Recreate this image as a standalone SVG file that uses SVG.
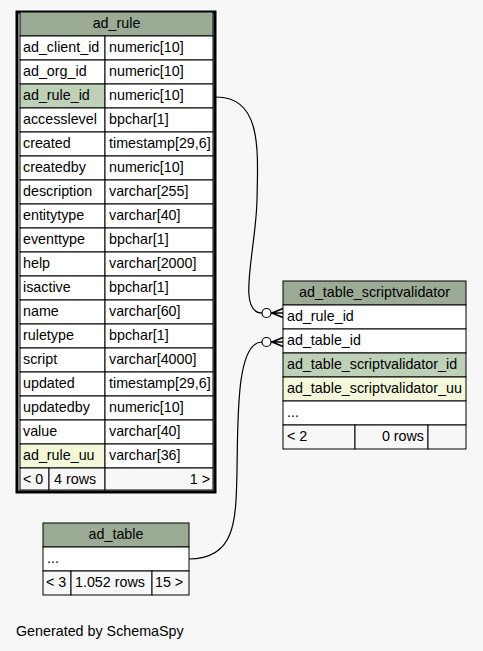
<svg xmlns="http://www.w3.org/2000/svg" width="483" height="651" viewBox="0 0 483 651">
<style>
text{font-family:"Liberation Sans",Arial,sans-serif;font-size:14.3px;fill:#000}
.c{fill:#fff;stroke:#000;stroke-width:1}
.h{fill:#9bab96;stroke:#000;stroke-width:1}
.pk{fill:#bed1b8;stroke:#000;stroke-width:1}
.uu{fill:#f4f7da;stroke:#000;stroke-width:1}
.ft{fill:#f7f7f7;stroke:#000;stroke-width:1}
.e{fill:none;stroke:#000;stroke-width:1.2}
.cf{fill:none;stroke:#000;stroke-width:1.6}
.m{text-anchor:middle}
.r{text-anchor:end}
</style>
<rect width="483" height="651" fill="#f7f7f7"/>
<g id="connectors">
<path class="e" d="M216,97 C262,97 258,150 257,200 C256,250 236,313 262,313"/>
<circle cx="266.5" cy="313" r="4.5" fill="#fff" stroke="#000" stroke-width="1.2"/>
<path class="cf" d="M271,313 H283 M272,313 L283,308.5 M272,313 L283,317.5"/>
<path class="e" d="M189,559 C236,559 236,520 237,470 C238,420 236,342 262,342"/>
<circle cx="266.5" cy="342" r="4.5" fill="#fff" stroke="#000" stroke-width="1.2"/>
<path class="cf" d="M271,342 H283 M272,342 L283,337.5 M272,342 L283,346.5"/>
</g>
<g id="ad_rule">
<rect x="17" y="12" width="198" height="480" fill="#f7f7f7" stroke="#000" stroke-width="3"/>
<rect class="h" x="20" y="12" width="193" height="24"/>
<text class="m" x="116.5" y="28">ad_rule</text>
<g>
<rect class="c" x="20" y="36" width="85" height="24"/><rect class="c" x="105" y="36" width="108" height="24"/>
<text x="23" y="52">ad_client_id</text><text x="109" y="52">numeric[10]</text>
<rect class="c" x="20" y="60" width="85" height="24"/><rect class="c" x="105" y="60" width="108" height="24"/>
<text x="23" y="76">ad_org_id</text><text x="109" y="76">numeric[10]</text>
<rect class="pk" x="20" y="84" width="85" height="24"/><rect class="c" x="105" y="84" width="108" height="24"/>
<text x="23" y="100">ad_rule_id</text><text x="109" y="100">numeric[10]</text>
<rect class="c" x="20" y="108" width="85" height="24"/><rect class="c" x="105" y="108" width="108" height="24"/>
<text x="23" y="124">accesslevel</text><text x="109" y="124">bpchar[1]</text>
<rect class="c" x="20" y="132" width="85" height="24"/><rect class="c" x="105" y="132" width="108" height="24"/>
<text x="23" y="148">created</text><text x="109" y="148">timestamp[29,6]</text>
<rect class="c" x="20" y="156" width="85" height="24"/><rect class="c" x="105" y="156" width="108" height="24"/>
<text x="23" y="172">createdby</text><text x="109" y="172">numeric[10]</text>
<rect class="c" x="20" y="180" width="85" height="24"/><rect class="c" x="105" y="180" width="108" height="24"/>
<text x="23" y="196">description</text><text x="109" y="196">varchar[255]</text>
<rect class="c" x="20" y="204" width="85" height="24"/><rect class="c" x="105" y="204" width="108" height="24"/>
<text x="23" y="220">entitytype</text><text x="109" y="220">varchar[40]</text>
<rect class="c" x="20" y="228" width="85" height="24"/><rect class="c" x="105" y="228" width="108" height="24"/>
<text x="23" y="244">eventtype</text><text x="109" y="244">bpchar[1]</text>
<rect class="c" x="20" y="252" width="85" height="24"/><rect class="c" x="105" y="252" width="108" height="24"/>
<text x="23" y="268">help</text><text x="109" y="268">varchar[2000]</text>
<rect class="c" x="20" y="276" width="85" height="24"/><rect class="c" x="105" y="276" width="108" height="24"/>
<text x="23" y="292">isactive</text><text x="109" y="292">bpchar[1]</text>
<rect class="c" x="20" y="300" width="85" height="24"/><rect class="c" x="105" y="300" width="108" height="24"/>
<text x="23" y="316">name</text><text x="109" y="316">varchar[60]</text>
<rect class="c" x="20" y="324" width="85" height="24"/><rect class="c" x="105" y="324" width="108" height="24"/>
<text x="23" y="340">ruletype</text><text x="109" y="340">bpchar[1]</text>
<rect class="c" x="20" y="348" width="85" height="24"/><rect class="c" x="105" y="348" width="108" height="24"/>
<text x="23" y="364">script</text><text x="109" y="364">varchar[4000]</text>
<rect class="c" x="20" y="372" width="85" height="24"/><rect class="c" x="105" y="372" width="108" height="24"/>
<text x="23" y="388">updated</text><text x="109" y="388">timestamp[29,6]</text>
<rect class="c" x="20" y="396" width="85" height="24"/><rect class="c" x="105" y="396" width="108" height="24"/>
<text x="23" y="412">updatedby</text><text x="109" y="412">numeric[10]</text>
<rect class="c" x="20" y="420" width="85" height="24"/><rect class="c" x="105" y="420" width="108" height="24"/>
<text x="23" y="436">value</text><text x="109" y="436">varchar[40]</text>
<rect class="uu" x="20" y="444" width="85" height="24"/><rect class="c" x="105" y="444" width="108" height="24"/>
<text x="23" y="460">ad_rule_uu</text><text x="109" y="460">varchar[36]</text>
<rect class="ft" x="20" y="468" width="29" height="22"/><rect class="ft" x="49" y="468" width="56" height="22"/><rect class="ft" x="105" y="468" width="108" height="22"/>
<text x="23" y="484">&lt; 0</text><text x="54" y="484">4 rows</text><text class="r" x="210" y="484">1 &gt;</text>
</g>
</g>
<g id="ad_table_scriptvalidator">
<rect class="h" x="283" y="281" width="183" height="24"/>
<text class="m" x="374.5" y="297">ad_table_scriptvalidator</text>
<rect class="c" x="283" y="305" width="183" height="24"/><text x="287" y="321">ad_rule_id</text>
<rect class="c" x="283" y="329" width="183" height="24"/><text x="287" y="345">ad_table_id</text>
<rect class="pk" x="283" y="353" width="183" height="24"/><text x="287" y="369">ad_table_scriptvalidator_id</text>
<rect class="uu" x="283" y="377" width="183" height="24"/><text x="287" y="393">ad_table_scriptvalidator_uu</text>
<rect class="c" x="283" y="401" width="183" height="24"/><text x="287" y="417">...</text>
<rect class="ft" x="283" y="425" width="72" height="24"/><rect class="ft" x="355" y="425" width="73" height="24"/><rect class="ft" x="428" y="425" width="38" height="24"/>
<text x="287" y="441">&lt; 2</text><text class="r" x="424" y="441">0 rows</text>
</g>
<g id="ad_table">
<rect class="h" x="43" y="523" width="146" height="24"/>
<text class="m" x="116" y="539">ad_table</text>
<rect class="c" x="43" y="547" width="146" height="24"/><text x="47" y="563">...</text>
<rect class="ft" x="43" y="571" width="28" height="24"/><rect class="ft" x="71" y="571" width="81" height="24"/><rect class="ft" x="152" y="571" width="37" height="24"/>
<text x="46" y="587">&lt; 3</text><text x="75" y="587">1.052 rows</text><text x="155" y="587">15 &gt;</text>
</g>
<text x="16" y="636">Generated by SchemaSpy</text>
</svg>
